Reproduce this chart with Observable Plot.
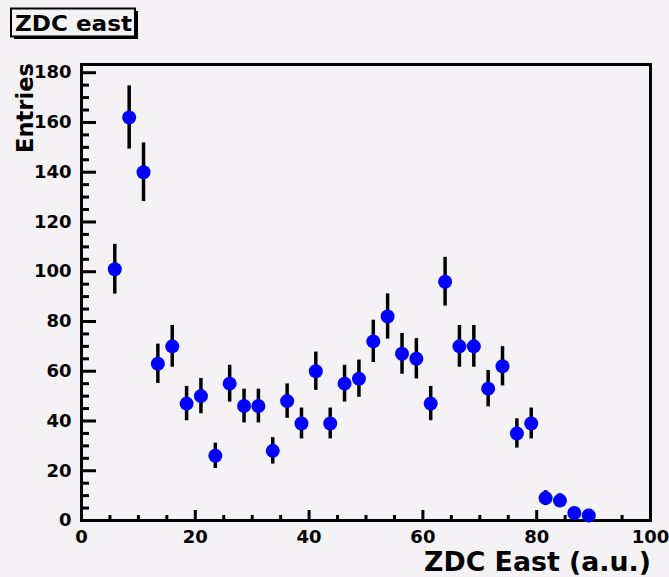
<!DOCTYPE html>
<html><head><meta charset="utf-8">
<script src="https://cdn.jsdelivr.net/npm/d3@7"></script>
<script src="https://cdn.jsdelivr.net/npm/@observablehq/plot@0.6"></script>
<style>html,body{margin:0;padding:0;background:#f5f2f5;} svg{display:block}</style>
</head><body><div id="chart"></div>
<script>
// Bin centers (ZDC East, a.u.)
const binCenters = [5.85, 8.38, 10.90, 13.42, 15.95, 18.47, 20.99, 23.52, 26.04, 28.57,
  31.09, 33.61, 36.14, 38.66, 41.18, 43.71, 46.23, 48.76, 51.28, 53.80,
  56.33, 58.85, 61.37, 63.90, 66.42, 68.95, 71.47, 73.99, 76.52, 79.04,
  81.56, 84.09, 86.61, 89.14];
// Entries per bin
const entries = [101, 162, 140, 63, 70, 47, 50, 26, 55, 46,
  46, 28, 48, 39, 60, 39, 55, 57, 72, 82,
  67, 65, 47, 96, 70, 70, 53, 62, 35, 39,
  9, 8, 3, 2];
// Error bar half-lengths
const errors = [10.0, 12.7, 11.8, 7.9, 8.4, 6.9, 7.1, 5.1, 7.4, 6.8,
  6.8, 5.3, 6.9, 6.2, 7.7, 6.2, 7.4, 7.5, 8.5, 9.1,
  8.2, 8.1, 6.9, 9.8, 8.4, 8.4, 7.3, 7.9, 5.9, 6.2,
  3.0, 2.8, 1.7, 1.4];

const yMajorTicks = [0, 20, 40, 60, 80, 100, 120, 140, 160, 180];
const yMinorTicks = [5, 10, 15, 25, 30, 35, 45, 50, 55, 65, 70, 75, 85, 90, 95,
  105, 110, 115, 125, 130, 135, 145, 150, 155, 165, 170, 175];
const xMajorTicks = [0, 20, 40, 60, 80, 100];
const xMinorTicks = [5, 10, 15, 25, 30, 35, 45, 50, 55, 65, 70, 75, 85, 90, 95];

const titleText = "ZDC east";
const xTitle = "ZDC East (a.u.)";
const yTitle = "Entries";

const data = binCenters.map((x, i) => ({x, y: entries[i], e: errors[i]}));

const W = 669, H = 577, mL = 81, mR = 19, mT = 64, mB = 57;
const pw = W - mL - mR, ph = H - mT - mB;
const bg = "#f5f2f5";
const font = "'DejaVu Sans', sans-serif";

const chart = Plot.plot({
  width: W, height: H,
  marginLeft: mL, marginRight: mR, marginTop: mT, marginBottom: mB,
  style: {background: bg, fontFamily: font, color: "black", overflow: "visible"},
  x: {domain: [0, 100]},
  y: {domain: [0, 183.3]},
  marks: [
    Plot.axisY({ticks: yMajorTicks, tickSize: 0, tickPadding: 10, label: null,
      fontSize: 18, fontWeight: "bold", fontFamily: font, tickFormat: d => String(d)}),
    Plot.axisX({ticks: xMajorTicks, tickSize: 0, tickPadding: 10, label: null,
      fontSize: 18, fontWeight: "bold", fontFamily: font, tickFormat: d => String(d)}),
    Plot.tickY(yMajorTicks, {y: d => d, insetRight: pw - 15, stroke: "black", strokeWidth: 3}),
    Plot.tickY(yMinorTicks, {y: d => d, insetRight: pw - 8, stroke: "black", strokeWidth: 3}),
    Plot.tickX(xMajorTicks, {x: d => d, insetTop: ph - 10, stroke: "black", strokeWidth: 3}),
    Plot.tickX(xMinorTicks, {x: d => d, insetTop: ph - 5, stroke: "black", strokeWidth: 3}),
    Plot.frame({stroke: "black", strokeWidth: 3}),
    Plot.ruleX(data, {x: "x", y1: d => d.y - d.e, y2: d => d.y + d.e, stroke: "black", strokeWidth: 3.5}),
    Plot.dot(data, {x: "x", y: "y", r: 7, fill: "#0000ff"})
  ]
});

const svg = d3.select(chart);
// title box with shadow
svg.append("rect").attr("x", 14).attr("y", 11).attr("width", 124).attr("height", 28).attr("fill", "black");
svg.append("rect").attr("x", 11).attr("y", 8.5).attr("width", 124).attr("height", 28)
  .attr("fill", bg).attr("stroke", "black").attr("stroke-width", 2);
svg.append("text").attr("x", 15).attr("y", 31).attr("text-anchor", "start")
  .attr("font-family", font).attr("font-weight", "bold")
  .attr("font-size", 22).attr("textLength", 117).attr("lengthAdjust", "spacingAndGlyphs")
  .attr("fill", "black").text(titleText);
// x axis title
svg.append("text").attr("x", 651).attr("y", 571).attr("text-anchor", "end")
  .attr("font-family", font).attr("font-weight", "bold").attr("font-size", 27)
  .attr("textLength", 227).attr("lengthAdjust", "spacingAndGlyphs")
  .attr("fill", "black").text(xTitle);
// y axis title
svg.append("text").attr("transform", "translate(33,63) rotate(-90)").attr("text-anchor", "end")
  .attr("font-family", font).attr("font-weight", "bold").attr("font-size", 23)
  .attr("textLength", 90).attr("lengthAdjust", "spacingAndGlyphs")
  .attr("fill", "black").text(yTitle);

document.getElementById("chart").appendChild(chart);
</script>
</body></html>
